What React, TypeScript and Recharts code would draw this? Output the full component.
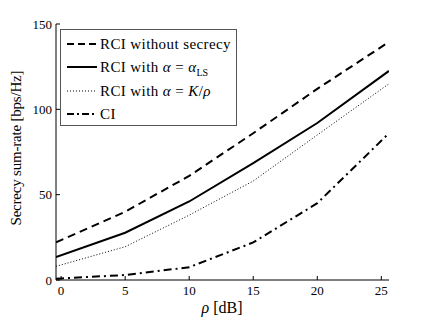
import React from 'react';
import { LineChart, Line, XAxis, YAxis } from 'recharts';

const rhoDb = [-0.4, 5, 10, 15, 20, 25.6];
const rciWithoutSecrecy = [22, 40, 61, 86, 112, 139.5];
const rciAlphaLS = [13.5, 27.7, 46, 68.5, 92, 122.5];
const rciAlphaKRho = [8, 19.5, 38, 58, 85, 115];
const ciValues = [0.8, 2.9, 7.5, 22, 45, 86];

const xTicks = [0, 5, 10, 15, 20, 25];
const yTicks = [0, 50, 100, 150];

const data = rhoDb.map((r, i) => ({
  rho: r,
  noSec: rciWithoutSecrecy[i],
  ls: rciAlphaLS[i],
  krho: rciAlphaKRho[i],
  ci: ciValues[i],
}));

const FONT = '"Liberation Serif", "Times New Roman", serif';

const legendRows = [
  { dash: '7 4', width: 2, label: <span>RCI without secrecy</span> },
  { dash: undefined, width: 2, label: <span>RCI with <i>α</i> = <i>α</i><sub style={{ fontSize: 10, letterSpacing: 0 }}>LS</sub></span> },
  { dash: '1 2', width: 1, label: <span>RCI with <i>α</i> = <i>K</i>/<i>ρ</i></span> },
  { dash: '7 3 2 3', width: 2, label: <span>CI</span> },
];

const LegendBox = () => (
  <div
    style={{
      position: 'absolute',
      left: 60,
      top: 29,
      boxSizing: 'border-box',
      width: 177,
      height: 97,
      border: '1px solid #555',
      background: '#fff',
      fontFamily: FONT,
      fontSize: 15,
      letterSpacing: 0.4,
      color: '#000',
    }}
  >
    {legendRows.map((row, i) => (
      <div key={i} style={{ position: 'absolute', left: 0, top: 13.5 + i * 23.5 - 9, height: 18, width: 175 }}>
        <svg width={32} height={18} style={{ position: 'absolute', left: 6, top: 0 }}>
          <line x1={0} y1={9} x2={30} y2={9} stroke="#000" strokeWidth={row.width} strokeDasharray={row.dash} />
        </svg>
        <div style={{ position: 'absolute', left: 39, top: 0, lineHeight: '18px', whiteSpace: 'nowrap' }}>{row.label}</div>
      </div>
    ))}
  </div>
);

const tickStyle = { fontFamily: FONT, fontSize: 13, fill: '#000' };

export default function App() {
  return (
    <div style={{ position: 'absolute', left: 0, top: 0, width: 429, height: 318, background: '#fff' }}>
      <LineChart width={429} height={318} data={data} margin={{ top: 24, right: 40, left: 0, bottom: 0 }}>
        <XAxis
          dataKey="rho"
          type="number"
          domain={[-0.4, 25.6]}
          ticks={xTicks}
          allowDataOverflow
          height={38}
          tickSize={-4}
          tickMargin={10}
          tick={tickStyle}
          stroke="#000"
          tickLine={{ stroke: '#000' }}
          axisLine={{ stroke: '#000' }}
          label={{
            content: () => (
              <text x={222} y={313} textAnchor="middle" fontFamily={FONT} fontSize={16} fill="#000">
                <tspan fontStyle="italic">ρ</tspan> [dB]
              </text>
            ),
          }}
        />
        <XAxis
          xAxisId="top"
          orientation="top"
          dataKey="rho"
          type="number"
          domain={[-0.4, 25.6]}
          ticks={xTicks}
          allowDataOverflow
          height={0}
          tickSize={-4}
          tickFormatter={() => ''}
          stroke="#000"
          tickLine={{ stroke: '#000' }}
          axisLine={{ stroke: '#000' }}
        />
        <YAxis
          type="number"
          domain={[0, 150]}
          ticks={yTicks}
          width={56}
          tickSize={-4}
          tickMargin={8}
          tick={tickStyle}
          stroke="#000"
          tickLine={{ stroke: '#000' }}
          axisLine={{ stroke: '#000' }}
          label={{
            content: () => (
              <text
                x={18}
                y={148}
                transform="rotate(-90 18 148)"
                textAnchor="middle"
                dominantBaseline="middle"
                fontFamily={FONT}
                fontSize={15}
                textLength={155}
                lengthAdjust="spacing"
                fill="#000"
              >
                Secrecy sum-rate [bps/Hz]
              </text>
            ),
          }}
        />
        <YAxis
          yAxisId="right"
          orientation="right"
          type="number"
          domain={[0, 150]}
          ticks={yTicks}
          width={0}
          tickSize={-4}
          tickFormatter={() => ''}
          stroke="#000"
          tickLine={{ stroke: '#000' }}
          axisLine={{ stroke: '#000' }}
        />
        <Line dataKey="noSec" stroke="#000" strokeWidth={2} strokeDasharray="8 5" dot={false} isAnimationActive={false} />
        <Line dataKey="ls" stroke="#000" strokeWidth={2} dot={false} isAnimationActive={false} />
        <Line dataKey="krho" stroke="#000" strokeWidth={1} strokeDasharray="1 2" dot={false} isAnimationActive={false} />
        <Line dataKey="ci" stroke="#000" strokeWidth={2} strokeDasharray="8 4 2 4" dot={false} isAnimationActive={false} />
      </LineChart>
      <LegendBox />
    </div>
  );
}
